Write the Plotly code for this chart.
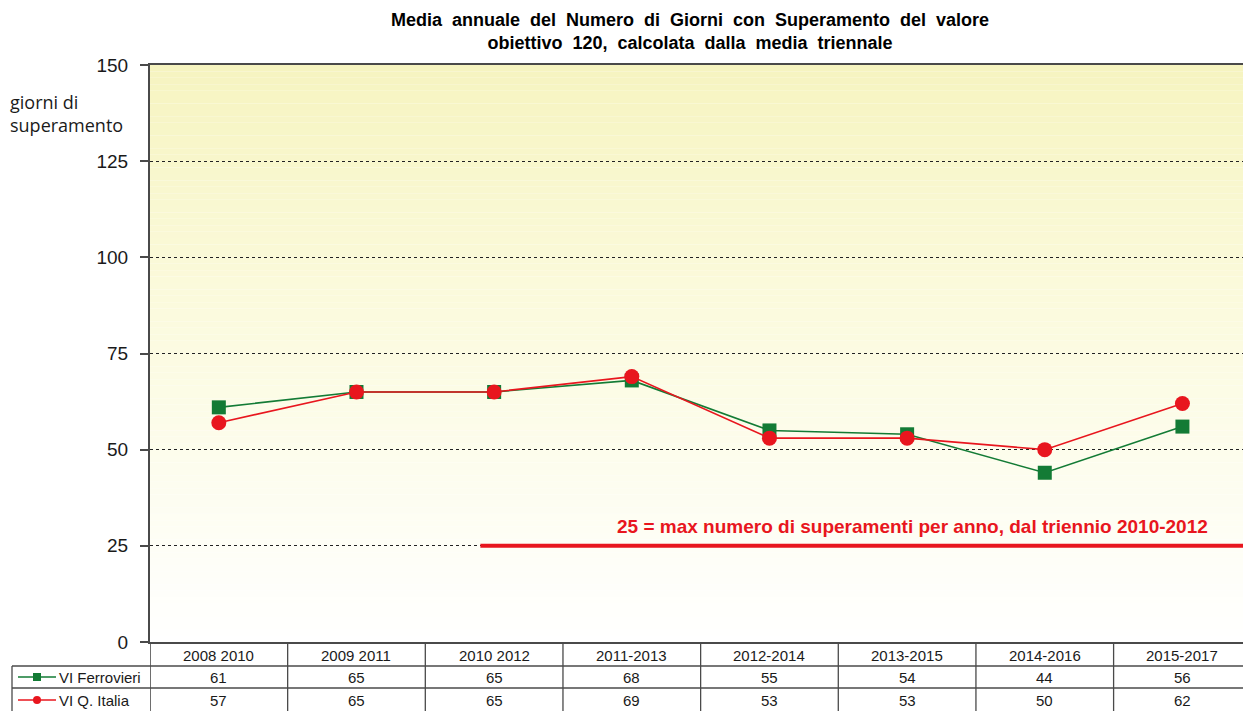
import plotly.graph_objects as go

# ---- data ----
periods = ["2008 2010", "2009 2011", "2010 2012", "2011-2013",
           "2012-2014", "2013-2015", "2014-2016", "2015-2017"]
ferrovieri = [61, 65, 65, 68, 55, 54, 44, 56]
q_italia = [57, 65, 65, 69, 53, 53, 50, 62]
series_names = ["VI Ferrovieri", "VI Q. Italia"]
y_ticks = [0, 25, 50, 75, 100, 125, 150]
limit_value = 25
limit_label = "25 = max numero di superamenti per anno, dal triennio 2010-2012"
title_lines = ["Media annuale del Numero di Giorni con Superamento del valore",
               "obiettivo 120, calcolata dalla media triennale"]

GREEN = "#137b35"
RED = "#e8161e"
INK = "#1a1a1a"
FRAME = "#4a4a4a"

W, H = 1243, 711
ML, MR, MT, MB = 150, 0, 65, 69
PW, PH = W - ML - MR, H - MT - MB
X_MIN, X_MAX = -0.5, 7.44
Y_MIN, Y_MAX = y_ticks[0], y_ticks[-1]


def pap_x(xpx):
    return (xpx - ML) / PW


def pap_y(ypx):
    return (H - MB - ypx) / PH


x_idx = list(range(len(periods)))

fig = go.Figure()

fig.add_trace(go.Scatter(
    x=x_idx, y=ferrovieri, name=series_names[0], mode="lines+markers",
    line=dict(color=GREEN, width=1.6),
    marker=dict(symbol="square", size=14, color=GREEN),
    hoverinfo="skip", showlegend=False))
fig.add_trace(go.Scatter(
    x=x_idx, y=q_italia, name=series_names[1], mode="lines+markers",
    line=dict(color=RED, width=1.6),
    marker=dict(symbol="circle", size=15, color=RED),
    hoverinfo="skip", showlegend=False))

shapes = []

# pale yellow background fading to white toward the bottom
stops = [(0.0, (255, 255, 255)), (0.3, (253, 253, 238)),
         (0.6, (251, 250, 220)), (1.0, (246, 244, 192))]


def bg_color(t):
    for (t0, c0), (t1, c1) in zip(stops[:-1], stops[1:]):
        if t <= t1:
            f = (t - t0) / (t1 - t0)
            return "rgb(%d,%d,%d)" % tuple(round(a + (b - a) * f) for a, b in zip(c0, c1))
    return "rgb(%d,%d,%d)" % stops[-1][1]


n_bands = 90
for i in range(n_bands):
    y0 = Y_MIN + (Y_MAX - Y_MIN) * i / n_bands
    y1 = Y_MIN + (Y_MAX - Y_MIN) * (i + 1) / n_bands
    shapes.append(dict(type="rect", xref="paper", yref="y", x0=0, x1=1,
                       y0=y0, y1=y1, layer="below", line=dict(width=0),
                       fillcolor=bg_color((i + 0.5) / n_bands)))

# threshold line
shapes.append(dict(type="line", xref="x", yref="y", x0=1.9, x1=X_MAX,
                   y0=limit_value, y1=limit_value, layer="above",
                   line=dict(color=RED, width=4)))

# data table grid
row_tops = [642, 666, 688, 711]
for k in range(len(periods)):
    xb = k - 0.5
    shapes.append(dict(type="line", xref="x", yref="paper", x0=xb, x1=xb,
                       y0=pap_y(row_tops[0]), y1=pap_y(H + 5),
                       line=dict(color=FRAME, width=1.6 if k == 0 else 1.3)))
for yr in row_tops[1:3]:
    shapes.append(dict(type="line", xref="paper", yref="paper",
                       x0=pap_x(12), x1=1, y0=pap_y(yr), y1=pap_y(yr),
                       line=dict(color=FRAME, width=1.3)))
shapes.append(dict(type="line", xref="paper", yref="paper",
                   x0=pap_x(12), x1=pap_x(12), y0=pap_y(666), y1=pap_y(H + 5),
                   line=dict(color=FRAME, width=1.3)))

# legend keys inside the table
key_rows = [677, 700]
for yr, col, sym in zip(key_rows, [GREEN, RED], ["square", "circle"]):
    shapes.append(dict(type="line", xref="paper", yref="paper",
                       x0=pap_x(18), x1=pap_x(56), y0=pap_y(yr), y1=pap_y(yr),
                       line=dict(color=col, width=1.5)))
    shapes.append(dict(type="rect" if sym == "square" else "circle",
                       xref="paper", yref="paper",
                       x0=pap_x(33), x1=pap_x(41), y0=pap_y(yr + 4), y1=pap_y(yr - 4),
                       fillcolor=col, line=dict(color=col, width=0)))

annotations = []
TFONT = "Liberation Sans, Arial, sans-serif"
cell_font = dict(family=TFONT, size=15, color=INK)

for k, p in enumerate(periods):
    annotations.append(dict(x=k, y=pap_y(655), xref="x", yref="paper", text=p,
                            showarrow=False, yanchor="middle", font=cell_font))
    for yr, vals in zip(key_rows, [ferrovieri, q_italia]):
        annotations.append(dict(x=k, y=pap_y(yr), xref="x", yref="paper",
                                text=str(vals[k]), showarrow=False,
                                yanchor="middle", font=cell_font))
for yr, nm in zip(key_rows, series_names):
    annotations.append(dict(x=pap_x(57), y=pap_y(yr), xref="paper", yref="paper",
                            text=nm, showarrow=False, xanchor="left",
                            yanchor="middle", font=cell_font))

# y-axis caption
annotations.append(dict(x=pap_x(8), y=pap_y(114), xref="paper", yref="paper",
                        text="giorni di<br>superamento", showarrow=False,
                        xanchor="left", yanchor="middle", align="left",
                        font=dict(family="Open Sans, sans-serif", size=18, color=INK)))

# threshold caption
annotations.append(dict(x=5.04, y=30, xref="x", yref="y", text="<b>%s</b>" % limit_label,
                        showarrow=False, xanchor="center", yanchor="middle",
                        font=dict(family=TFONT, size=19, color=RED)))

# title (Excel-style wide word spacing)
gap = " \u00a0"
title_html = "<br>".join(line.replace(" ", gap) for line in title_lines)
annotations.append(dict(x=pap_x(690), y=pap_y(31), xref="paper", yref="paper",
                        text="<b>%s</b>" % title_html,
                        showarrow=False, xanchor="center", yanchor="middle",
                        font=dict(family=TFONT, size=18, color="#000000")))

fig.update_layout(
    width=W, height=H,
    margin=dict(l=ML, r=MR, t=MT, b=MB, pad=0),
    paper_bgcolor="white", plot_bgcolor="white",
    shapes=shapes, annotations=annotations,
    xaxis=dict(range=[X_MIN, X_MAX], showgrid=False, zeroline=False,
               showticklabels=False, ticks="", showline=True,
               linecolor=FRAME, linewidth=2, mirror=True, fixedrange=True),
    yaxis=dict(range=[Y_MIN, Y_MAX], tickvals=y_ticks, ticks="outside",
               ticklen=8, tickcolor=FRAME, tickwidth=1.5, showline=True,
               linecolor=FRAME, linewidth=2, showgrid=True, gridcolor="#222222",
               griddash="dot", gridwidth=1.2, zeroline=False,
               tickfont=dict(family=TFONT, size=19, color=INK),
               ticklabelstandoff=8, fixedrange=True),
)

fig.write_html("out.html", config={"displayModeBar": False})
